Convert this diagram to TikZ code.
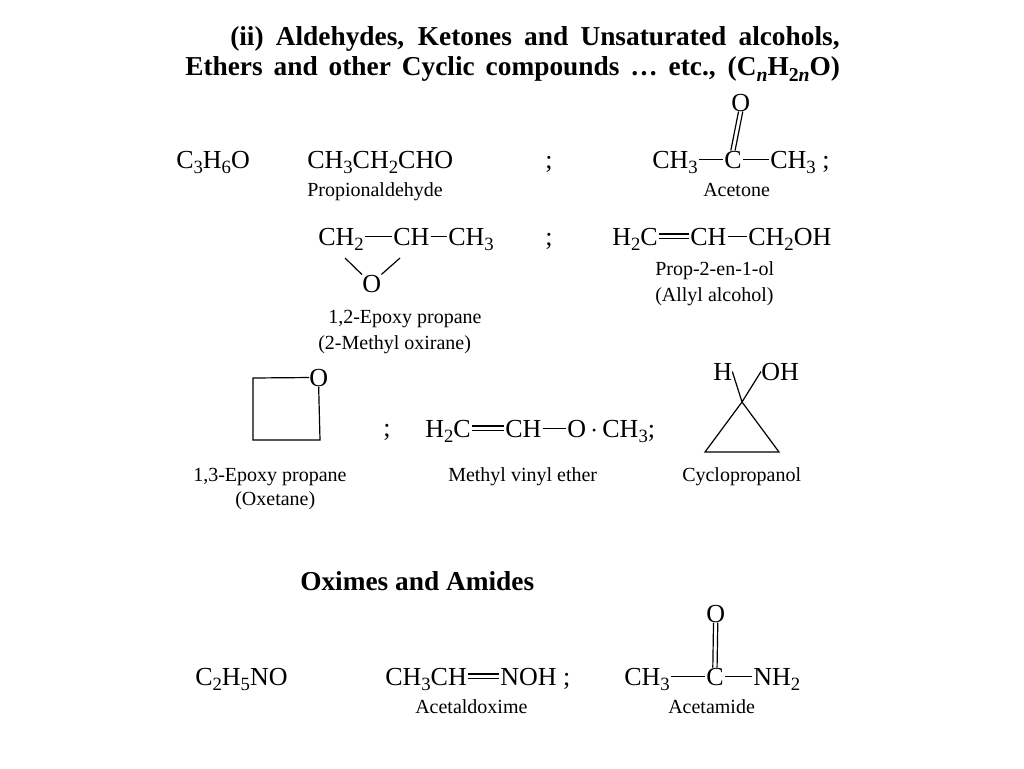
\documentclass[tikz,border=0pt]{standalone}
\usepackage{fontspec}
\setmainfont{Liberation Serif}
\newcommand\sbs[1]{\raisebox{-0.5ex}{\scalebox{0.72}{#1}}}
\newcommand\sbond[2]{\draw[bondln] ([yshift=6.5pt,xshift=1pt]#1.base east) -- ([yshift=6.5pt,xshift=-1pt]#2.base west);}
\newcommand\dbond[2]{\draw[bondln] ([yshift=8.3pt,xshift=1pt]#1.base east) -- ([yshift=8.3pt,xshift=-1pt]#2.base west);
 \draw[bondln] ([yshift=4.7pt,xshift=1pt]#1.base east) -- ([yshift=4.7pt,xshift=-1pt]#2.base west);}
\newcommand\vdbond[2]{\draw[bondln] ([xshift=-1.6pt]#1.north) -- ([xshift=-1.6pt]#2.south);
 \draw[bondln] ([xshift=1.6pt]#1.north) -- ([xshift=1.6pt]#2.south);}
\begin{document}
\begin{tikzpicture}[x=0.75pt,y=-0.75pt,
  f/.style={anchor=base west,inner sep=0pt,font=\fontsize{19.5}{22}\selectfont},
  lab/.style={anchor=base west,inner sep=0pt,font=\fontsize{15}{17}\selectfont},
  ttl/.style={anchor=base west,inner sep=0pt,font=\bfseries\fontsize{20.5}{24}\selectfont},
  bondln/.style={line width=0.9pt}]
\fill[white] (0,0) rectangle (1024,768);
\useasboundingbox (0,0) rectangle (1024,768);
\node[ttl] (t1) at (230,45) {\makebox[457pt][s]{(ii) Aldehydes, Ketones and Unsaturated alcohols,}};
\node[ttl] (t2) at (185,75) {\makebox[491pt][s]{Ethers and other Cyclic compounds \ldots\ etc., (C\sbs{\itshape n}H\sbs{2\itshape n}O)}};
% row 1
\node[f] (fa) at (176,168) {C\sbs{3}H\sbs{6}O};
\node[f] (p1) at (307,168) {CH\sbs{3}CH\sbs{2}CHO};
\node[lab] (p1n) at (307,196) {Propionaldehyde};
\node[f] (s1) at (545,168) {;};
\node[f] (ac1) at (652,168) {CH\sbs{3}};
\node[f] (ac2) at (724,168) {C};
\node[f] (ac3) at (770,168) {CH\sbs{3} ;};
\node[f] (acO) at (731,111) {O};
\sbond{ac1}{ac2}\sbond{ac2}{ac3}
\vdbond{ac2}{acO}
\node[lab] (acn) at (703,196) {Acetone};
% row 2
\node[f] (e1) at (318,245) {CH\sbs{2}};
\node[f] (e2) at (393,245) {CH};
\node[f] (e3) at (448,245) {CH\sbs{3}};
\node[f] (eO) at (362,292) {O};
\sbond{e1}{e2}\sbond{e2}{e3}
\draw[bondln] (345,258) -- (eO.north west);
\draw[bondln] (400,258) -- (eO.north east);
\node[lab] (en1) at (328,323) {1,2-Epoxy propane};
\node[lab] (en2) at (318,349) {(2-Methyl oxirane)};
\node[f] (s2) at (545,245) {;};
\node[f] (al1) at (612,245) {H\sbs{2}C};
\node[f] (al2) at (690,245) {CH};
\node[f] (al3) at (748,245) {CH\sbs{2}OH};
\dbond{al1}{al2}\sbond{al2}{al3}
\node[lab] (aln1) at (655,275) {Prop-2-en-1-ol};
\node[lab] (aln2) at (655,301) {(Allyl alcohol)};
% row 3
\node[f] (oxO) at (309,386) {O};
\draw[bondln] (oxO.west) -- (253,378) -- (253,440) -- (320,440) -- (oxO.south);
\node[lab] (oxn1) at (193,481) {1,3-Epoxy propane};
\node[lab] (oxn2) at (235,505) {(Oxetane)};
\node[f] (s3) at (383,436) {;};
\node[f] (mv1) at (425,437) {H\sbs{2}C};
\node[f] (mv2) at (505,437) {CH};
\node[f] (mv3) at (567,437) {O\,$\cdot$\,CH\sbs{3};};
\dbond{mv1}{mv2}\sbond{mv2}{mv3}
\node[lab] (mvn) at (448,481) {Methyl vinyl ether};
\node[f] (cH) at (713,380) {H};
\node[f] (cOH) at (761,380) {OH};
\coordinate (cp) at (742,402);
\draw[bondln] (cH.east) -- (cp) -- (cOH.west);
\draw[bondln] (cp) -- (705,452) -- (779,452) -- cycle;
\node[lab] (cpn) at (682,481) {Cyclopropanol};
% oximes
\node[ttl] (t3) at (300,590) {Oximes and Amides};
\node[f] (g) at (195,685) {C\sbs{2}H\sbs{5}NO};
\node[f] (ao1) at (385,685) {CH\sbs{3}CH};
\node[f] (ao2) at (500,685) {NOH ;};
\dbond{ao1}{ao2}
\node[lab] (aon) at (415,713) {Acetaldoxime};
\node[f] (am1) at (624,685) {CH\sbs{3}};
\node[f] (am2) at (706,685) {C};
\node[f] (am3) at (753,685) {NH\sbs{2}};
\node[f] (amO) at (706,622) {O};
\sbond{am1}{am2}\sbond{am2}{am3}
\vdbond{am2}{amO}
\node[lab] (amn) at (668,713) {Acetamide};
\end{tikzpicture}
\end{document}
